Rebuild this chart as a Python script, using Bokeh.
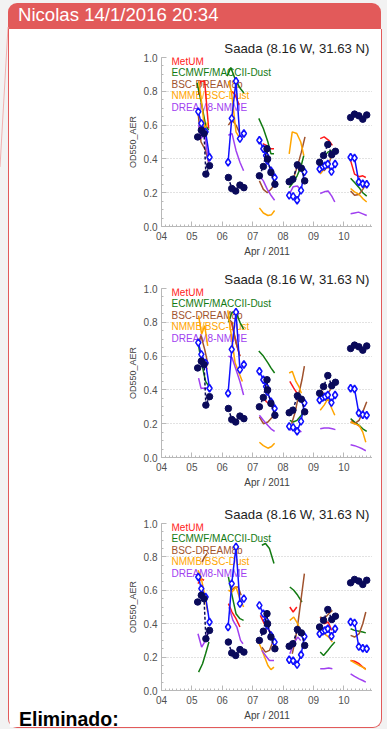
from bokeh.plotting import figure
from bokeh.models import Range1d, FixedTicker, Label, Div
from bokeh.layouts import column
from bokeh.embed import file_html
from bokeh.resources import INLINE

# ---------------- data ----------------
HEADER = "Nicolas 14/1/2016 20:34"
TITLE = "Saada (8.16 W, 31.63 N)"
X_LABEL = "Apr / 2011"
Y_LABEL = "OD550_AER"
FOOTER = "Eliminado:"

TICK_DAYS = [4, 5, 6, 7, 8, 9, 10]
TICK_LABELS = ["04", "05", "06", "07", "08", "09", "10"]
Y_TICKS = [0.0, 0.2, 0.4, 0.6, 0.8, 1.0]
Y_LABELS = ["0.0", "0.2", "0.4", "0.6", "0.8", "1.0"]

MODEL_NAMES = ["MetUM", "ECMWF/MACCII-Dust", "BSC-DREAM8b", "NMMB/BSC-Dust", "DREAM8-NMME"]
MODEL_COLORS = ["#ff1a1a", "#127a12", "#a0522d", "#ffa500", "#a040f0"]

# observations (same in the three panels): (day, AOD)
OBS_DOTS = [
    [(5.19, 0.53), (5.31, 0.57), (5.40, 0.55), (5.46, 0.31), (5.58, 0.36)],
    [(6.20, 0.29), (6.31, 0.225), (6.44, 0.21), (6.58, 0.245), (6.71, 0.23)],
    [(7.22, 0.30), (7.35, 0.355), (7.47, 0.46), (7.49, 0.40), (7.60, 0.32), (7.73, 0.25)],
    [(8.20, 0.265), (8.32, 0.28), (8.47, 0.365), (8.60, 0.345), (8.71, 0.27)],
    [(9.20, 0.38), (9.33, 0.42), (9.47, 0.485), (9.60, 0.425), (9.72, 0.445)],
    [(10.22, 0.645), (10.35, 0.665), (10.49, 0.655), (10.62, 0.635), (10.75, 0.66)],
]
OBS_DIAMONDS = [
    [(5.21, 0.68), (5.31, 0.61), (5.45, 0.56), (5.58, 0.41)],
    [(6.19, 0.38), (6.31, 0.64), (6.45, 0.86), (6.58, 0.52), (6.71, 0.55)],
    [(7.22, 0.51), (7.35, 0.46), (7.44, 0.42), (7.48, 0.39), (7.60, 0.33), (7.72, 0.29)],
    [(8.20, 0.184), (8.33, 0.178), (8.46, 0.155), (8.59, 0.214), (8.70, 0.323)],
    [(9.20, 0.34), (9.30, 0.355), (9.38, 0.36), (9.47, 0.37), (9.59, 0.325), (9.71, 0.37)],
    [(10.22, 0.41), (10.35, 0.405), (10.49, 0.263), (10.62, 0.253), (10.75, 0.25)],
]

# panel 1 models
P1_METUM = [
    [(5.22, 0.78), (5.28, 0.86), (5.42, 0.86), (5.55, 0.58)],
    [(6.30, 0.80), (6.42, 0.78), (6.55, 0.72)],
    [(7.33, 0.49), (7.45, 0.48), (7.58, 0.46), (7.70, 0.46)],
    [(9.22, 0.52), (9.35, 0.53), (9.50, 0.51), (9.62, 0.48)],
    [(10.22, 0.39), (10.35, 0.31), (10.50, 0.295), (10.62, 0.30), (10.72, 0.29)],
]
P1_ECMWF = [
    [(5.17, 0.85), (5.30, 0.74), (5.45, 0.60), (5.55, 0.57)],
    [(6.16, 0.89), (6.28, 0.94), (6.45, 0.86), (6.58, 0.82), (6.71, 0.79)],
    [(7.20, 0.64), (7.35, 0.58), (7.50, 0.50), (7.60, 0.43), (7.70, 0.43)],
    [(8.20, 0.23), (8.33, 0.26), (8.46, 0.30), (8.58, 0.35), (8.68, 0.42)],
    [(9.33, 0.41), (9.47, 0.44), (9.60, 0.45)],
    [(10.22, 0.285), (10.35, 0.26), (10.50, 0.23), (10.62, 0.20), (10.75, 0.18)],
]
P1_BSC = [
    [(5.20, 0.68), (5.30, 0.50), (5.45, 0.45), (5.55, 0.38)],
    [(6.20, 0.60), (6.32, 0.63), (6.45, 0.60), (6.58, 0.55)],
    [(7.22, 0.27), (7.35, 0.22), (7.48, 0.20), (7.60, 0.22), (7.72, 0.25)],
    [(8.20, 0.25), (8.33, 0.28), (8.46, 0.35), (8.60, 0.44), (8.72, 0.53)],
    [(9.22, 0.37), (9.35, 0.33), (9.50, 0.37), (9.62, 0.43)],
    [(10.22, 0.21), (10.35, 0.185), (10.50, 0.19), (10.62, 0.22), (10.75, 0.26)],
]
P1_NMMB = [
    [(5.22, 0.86), (5.33, 0.72), (5.42, 0.57), (5.52, 0.62)],
    [(6.20, 0.86), (6.30, 0.80), (6.45, 0.56), (6.58, 0.52), (6.70, 0.54)],
    [(7.22, 0.11), (7.35, 0.08), (7.50, 0.065), (7.62, 0.07), (7.72, 0.095)],
    [(8.20, 0.43), (8.30, 0.56), (8.45, 0.55), (8.58, 0.50), (8.68, 0.42)],
    [(9.22, 0.31), (9.35, 0.34), (9.50, 0.35), (9.62, 0.31)],
    [(10.22, 0.225), (10.35, 0.205), (10.50, 0.19), (10.62, 0.165), (10.75, 0.145)],
]
P1_DREAM = [
    [(5.22, 0.60), (5.30, 0.52), (5.42, 0.55), (5.55, 0.38)],
    [(6.20, 0.54), (6.32, 0.55), (6.45, 0.45), (6.58, 0.38), (6.70, 0.33)],
    [(7.22, 0.30), (7.35, 0.27), (7.48, 0.22), (7.60, 0.185), (7.72, 0.155)],
    [(8.20, 0.19), (8.33, 0.235), (8.47, 0.24), (8.60, 0.21)],
    [(9.22, 0.195), (9.35, 0.205), (9.48, 0.21), (9.60, 0.18), (9.70, 0.145)],
    [(10.22, 0.075), (10.35, 0.08), (10.48, 0.085), (10.62, 0.075), (10.75, 0.065)],
]

# panel 2 models
P2_METUM = [
    [(5.25, 0.62), (5.38, 0.58), (5.50, 0.52)],
    [(6.30, 0.80), (6.45, 0.68), (6.58, 0.60)],
    [(7.30, 0.37), (7.45, 0.33), (7.60, 0.31)],
    [(8.22, 0.45), (8.35, 0.41), (8.46, 0.38)],
    [(9.22, 0.38), (9.35, 0.37), (9.48, 0.34), (9.60, 0.32)],
    [(10.25, 0.22), (10.40, 0.20), (10.55, 0.18)],
]
P2_ECMWF = [
    [(5.22, 0.66), (5.33, 0.55), (5.45, 0.45), (5.56, 0.42)],
    [(6.20, 0.80), (6.32, 0.86), (6.45, 0.86), (6.58, 0.80), (6.70, 0.76)],
    [(7.20, 0.63), (7.35, 0.60), (7.50, 0.56), (7.60, 0.53), (7.72, 0.50)],
    [(8.22, 0.22), (8.33, 0.21), (8.46, 0.22), (8.60, 0.25), (8.70, 0.29)],
    [(9.25, 0.36), (9.40, 0.34), (9.55, 0.34), (9.65, 0.33)],
    [(10.22, 0.23), (10.35, 0.21), (10.50, 0.19), (10.62, 0.17), (10.75, 0.155)],
]
P2_BSC = [
    [(5.22, 0.68), (5.30, 0.72), (5.42, 0.64), (5.53, 0.55)],
    [(6.20, 0.82), (6.32, 0.80), (6.45, 0.68), (6.58, 0.60)],
    [(7.22, 0.24), (7.35, 0.20), (7.50, 0.21), (7.70, 0.25)],
    [(8.28, 0.20), (8.40, 0.27), (8.52, 0.38), (8.62, 0.46), (8.70, 0.54)],
    [(9.25, 0.40), (9.40, 0.36), (9.55, 0.40), (9.65, 0.44)],
    [(10.22, 0.21), (10.35, 0.20), (10.50, 0.22), (10.62, 0.27), (10.75, 0.33)],
]
P2_NMMB = [
    [(5.22, 0.84), (5.32, 0.73), (5.42, 0.78), (5.52, 0.66)],
    [(6.18, 0.87), (6.30, 0.72), (6.42, 0.56), (6.55, 0.50), (6.66, 0.45)],
    [(7.22, 0.09), (7.35, 0.07), (7.50, 0.055), (7.62, 0.065), (7.72, 0.085)],
    [(8.20, 0.50), (8.30, 0.51), (8.42, 0.45), (8.52, 0.42), (8.60, 0.38)],
    [(9.22, 0.28), (9.35, 0.31), (9.48, 0.35), (9.60, 0.29), (9.70, 0.25)],
    [(10.22, 0.21), (10.35, 0.20), (10.50, 0.19), (10.62, 0.15), (10.72, 0.09)],
]
P2_DREAM = [
    [(5.22, 0.47), (5.30, 0.41), (5.45, 0.41), (5.55, 0.41)],
    [(6.20, 0.60), (6.32, 0.59), (6.45, 0.52), (6.58, 0.45), (6.70, 0.37)],
    [(7.22, 0.25), (7.35, 0.22), (7.50, 0.19), (7.60, 0.17), (7.72, 0.155)],
    [(8.22, 0.16), (8.35, 0.18), (8.48, 0.17), (8.60, 0.15)],
    [(9.22, 0.17), (9.35, 0.175), (9.50, 0.175), (9.62, 0.17), (9.72, 0.165)],
    [(10.22, 0.075), (10.35, 0.07), (10.50, 0.06), (10.62, 0.05), (10.72, 0.04)],
]

# panel 3 models
P3_METUM = [
    [(5.20, 0.64), (5.30, 0.67), (5.40, 0.66)],
    [(6.20, 0.52), (6.32, 0.47), (6.45, 0.43), (6.58, 0.38)],
    [(7.25, 0.45), (7.38, 0.40), (7.50, 0.37), (7.62, 0.34)],
    [(8.22, 0.50), (8.33, 0.47), (8.45, 0.50)],
    [(9.22, 0.44), (9.35, 0.40), (9.48, 0.41), (9.60, 0.36)],
    [(10.22, 0.18), (10.35, 0.175), (10.50, 0.16), (10.62, 0.14), (10.72, 0.13)],
]
P3_ECMWF = [
    [(5.22, 0.11), (5.35, 0.16), (5.45, 0.22), (5.56, 0.29)],
    [(6.20, 0.68), (6.32, 0.57), (6.45, 0.46), (6.58, 0.43), (6.70, 0.42)],
    [(7.30, 0.87), (7.42, 0.88), (7.55, 0.85), (7.70, 0.76)],
    [(8.22, 0.62), (8.35, 0.60), (8.48, 0.57), (8.62, 0.53)],
    [(9.22, 0.23), (9.33, 0.21), (9.47, 0.24), (9.60, 0.27), (9.70, 0.29)],
    [(10.22, 0.37), (10.35, 0.36), (10.50, 0.355), (10.62, 0.35), (10.72, 0.345)],
]
P3_BSC = [
    [(5.33, 0.77), (5.42, 0.80), (5.50, 0.82)],
    [(6.30, 0.60), (6.42, 0.62), (6.52, 0.62), (6.62, 0.57)],
    [(7.30, 0.26), (7.42, 0.23), (7.55, 0.24), (7.70, 0.31)],
    [(8.30, 0.22), (8.40, 0.30), (8.50, 0.42), (8.60, 0.56), (8.70, 0.70)],
    [(9.22, 0.44), (9.35, 0.43), (9.50, 0.46), (9.62, 0.48)],
    [(10.22, 0.33), (10.35, 0.32), (10.50, 0.34), (10.62, 0.40), (10.72, 0.47)],
]
P3_NMMB = [
    [(5.20, 0.72), (5.30, 0.68), (5.42, 0.57), (5.52, 0.47)],
    [(6.20, 0.60), (6.32, 0.59), (6.45, 0.62), (6.58, 0.55), (6.70, 0.50)],
    [(7.22, 0.28), (7.35, 0.22), (7.50, 0.15), (7.60, 0.125), (7.70, 0.14)],
    [(8.22, 0.42), (8.35, 0.44), (8.48, 0.40), (8.62, 0.33)],
    [(9.22, 0.36), (9.35, 0.34), (9.50, 0.32), (9.62, 0.29)],
    [(10.22, 0.18), (10.35, 0.165), (10.50, 0.15), (10.62, 0.14), (10.72, 0.125)],
]
P3_DREAM = [
    [(5.20, 0.34), (5.32, 0.26), (5.45, 0.30), (5.55, 0.37)],
    [(6.22, 0.50), (6.35, 0.42), (6.48, 0.38), (6.60, 0.30), (6.68, 0.28)],
    [(7.30, 0.24), (7.42, 0.21), (7.55, 0.18), (7.70, 0.18)],
    [(8.22, 0.22), (8.35, 0.28), (8.48, 0.32), (8.58, 0.30)],
    [(9.22, 0.13), (9.35, 0.13), (9.50, 0.135), (9.62, 0.13)],
    [(10.22, 0.10), (10.35, 0.085), (10.50, 0.07), (10.62, 0.06), (10.72, 0.05)],
]

PANELS = [
    [P1_METUM, P1_ECMWF, P1_BSC, P1_NMMB, P1_DREAM],
    [P2_METUM, P2_ECMWF, P2_BSC, P2_NMMB, P2_DREAM],
    [P3_METUM, P3_ECMWF, P3_BSC, P3_NMMB, P3_DREAM],
]

# ---------------- style ----------------
FONT = "Liberation Sans"
RED = "#e25a5a"
AXIS_GRAY = "#b8b8b8"


def split(segs):
    return [[p[0] for p in s] for s in segs], [[p[1] for p in s] for s in segs]


def make_panel(models, height, top, bottom):
    frame_h = height - top - bottom
    p = figure(width=363, height=height, x_range=Range1d(4, 10.94), y_range=Range1d(0, 1),
               output_backend="svg", toolbar_location=None, title=TITLE,
               min_border_left=152, min_border_right=0, min_border_top=top,
               min_border_bottom=bottom)
    p.outline_line_color = None
    p.background_fill_color = "white"
    p.border_fill_color = "white"
    p.title.align = "right"
    p.title.offset = 3
    p.title.standoff = 4
    p.title.text_font = FONT
    p.title.text_font_size = "13.2px"
    p.title.text_font_style = "normal"
    p.title.text_color = "#1e1e1e"

    minor_x = [4 + k / 8 for k in range(56)]
    p.xaxis.ticker = FixedTicker(ticks=TICK_DAYS, minor_ticks=minor_x)
    p.xaxis.major_label_overrides = dict(zip(TICK_DAYS, TICK_LABELS))
    p.xaxis.axis_label = X_LABEL
    minor_y = [k / 20 for k in range(21)]
    p.yaxis.ticker = FixedTicker(ticks=Y_TICKS, minor_ticks=minor_y)
    p.yaxis.major_label_overrides = dict(zip(Y_TICKS, Y_LABELS))
    p.yaxis.axis_label = Y_LABEL
    for ax in (p.xaxis[0], p.yaxis[0]):
        ax.axis_line_color = AXIS_GRAY
        ax.major_tick_line_color = AXIS_GRAY
        ax.minor_tick_line_color = AXIS_GRAY
        ax.major_tick_in = 5
        ax.major_tick_out = 0
        ax.minor_tick_in = 2
        ax.minor_tick_out = 0
        ax.major_label_text_font = FONT
        ax.major_label_text_font_size = "10px"
        ax.major_label_text_color = "#505050"
        ax.axis_label_text_font = FONT
        ax.axis_label_text_font_style = "normal"
        ax.axis_label_text_color = "#404040"
    p.xaxis.major_label_standoff = 5
    p.xaxis.axis_label_text_font_size = "10px"
    p.xaxis.axis_label_standoff = 3
    p.yaxis.major_label_standoff = 4
    p.yaxis.axis_label_text_font_size = "9px"
    p.yaxis.axis_label_standoff = 3
    p.xgrid.visible = False
    p.ygrid.grid_line_color = "#c4c4c4"
    p.ygrid.grid_line_dash = "1 2"

    for i, (name, color) in enumerate(zip(MODEL_NAMES, MODEL_COLORS)):
        p.add_layout(Label(x=10, y=frame_h - 9 - i * 11.6, x_units="screen", y_units="screen",
                           text=name, text_color=color, text_font=FONT,
                           text_font_size="10px", level="underlay"))

    for segs, color in zip(models, MODEL_COLORS):
        xs, ys = split(segs)
        p.multi_line(xs, ys, line_color=color, line_width=1.5)

    xs, ys = split(OBS_DIAMONDS)
    p.multi_line(xs, ys, line_color="#1010ff", line_width=1.5)
    p.scatter(sum(xs, []), sum(ys, []), marker="diamond", size=7.5, line_color="#1010ff",
              line_width=1.6, fill_color="white")
    xs, ys = split(OBS_DOTS)
    p.multi_line(xs, ys, line_color="#0a0a5a", line_width=1.5, line_dash="3 2")
    p.scatter(sum(xs, []), sum(ys, []), marker="circle", size=6.5, line_color="#0a0a5a",
              fill_color="#0a0a5a")
    return p


f1 = make_panel(PANELS[0], 233, 28, 36)
f2 = make_panel(PANELS[1], 232, 26, 37)
f3 = make_panel(PANELS[2], 233, 29, 37)

connector = ('<svg style="position:absolute; left:-8px; top:24px; overflow:visible" '
             'width="9" height="142"><line x1="8" y1="0" x2="0" y2="140" '
             'stroke="#f2b0b0" stroke-width="1"/></svg>')
header = Div(text=HEADER + connector, width=373, height=26, margin=(3, 0, 0, 8),
             styles={"background-color": RED, "color": "white", "font-family": FONT,
                     "font-size": "18.6px", "line-height": "24px", "padding-left": "10px",
                     "border-radius": "9px 9px 0 0", "box-sizing": "border-box",
                     "overflow": "visible"})

footer = Div(text=FOOTER, width=120, height=18, margin=(-17, 0, 0, 10),
             styles={"color": "black", "font-family": FONT, "font-size": "19.5px",
                     "font-weight": "bold", "line-height": "19px"})

body = column(f1, f2, f3, footer, width=374, height=699, margin=(0, 0, 0, 8),
              styles={"background-color": "white", "border-left": "1px solid " + RED,
                      "border-right": "1px solid " + RED, "border-bottom": "1px solid " + RED,
                      "border-radius": "0 0 9px 9px", "box-sizing": "border-box"})

root = column(header, body, width=387, height=729, styles={"background-color": "#f2f2f2"})

open("out.html", "w").write(file_html(root, INLINE))
